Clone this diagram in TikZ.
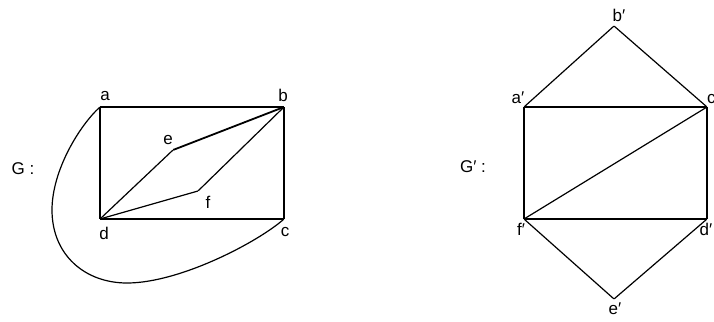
\documentclass[tikz,border=0pt]{standalone}
\usepackage{fontspec}
\setmainfont{Liberation Sans}
\begin{document}
\begin{tikzpicture}[x=1pt,y=-1pt,
  edge/.style={line width=1.2pt, line join=round},
  thick edge/.style={line width=1.8pt},
  lbl/.style={font=\fontsize{17}{19}\selectfont, inner sep=0pt},
  vtx/.style={inner sep=0pt, minimum size=0pt}]
\useasboundingbox (0,0) rectangle (714,321);
% Graph G
\node[vtx] (a) at (100,107) {};
\node[vtx] (b) at (284,107) {};
\node[vtx] (c) at (284,219) {};
\node[vtx] (d) at (100,219) {};
\node[vtx] (e) at (173,150) {};
\node[vtx] (f) at (198,191) {};
\node[lbl] (la) at (105,96) {a};
\node[lbl] (lb) at (283,95) {b};
\node[lbl] (lc) at (285,232) {c};
\node[lbl] (ld) at (104,233) {d};
\node[lbl] (le) at (168,140) {e};
\node[lbl] (lf) at (208,202) {f};
\node[lbl] (G) at (23,169) {G :};
\draw[edge] (a) -- (b) -- (c) -- (d) -- (a);
\draw[edge] (d) -- (e);
\draw[thick edge] (e) -- (b);
\draw[edge] (d) -- (f) -- (b);
\draw[edge] (a) .. controls (80,125) and (52,170) .. (52,210)
  .. controls (52,255) and (85,283) .. (127,283)
  .. controls (180,283) and (258,242) .. (c);
% Graph G'
\node[vtx] (b2) at (614,26) {};
\node[vtx] (a2) at (524,107) {};
\node[vtx] (c2) at (707,107) {};
\node[vtx] (f2) at (524,219) {};
\node[vtx] (d2) at (707,219) {};
\node[vtx] (e2) at (614,299) {};
\node[lbl] (lb2) at (619,15) {b′};
\node[lbl] (la2) at (518,98) {a′};
\node[lbl] (lc2) at (713,98) {c′};
\node[lbl] (lf2) at (521,229) {f′};
\node[lbl] (ld2) at (706,229) {d′};
\node[lbl] (le2) at (615,309) {e′};
\node[lbl] (G2) at (473,167) {G′ :};
\draw[edge] (a2) -- (c2) -- (d2) -- (f2) -- (a2);
\draw[edge] (f2) -- (c2);
\draw[edge] (a2) -- (b2) -- (c2);
\draw[edge] (f2) -- (e2) -- (d2);
\end{tikzpicture}
\end{document}
